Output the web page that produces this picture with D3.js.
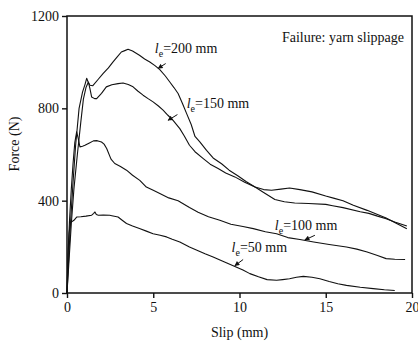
<!DOCTYPE html>
<html>
<head>
<meta charset="utf-8">
<script src="https://cdn.jsdelivr.net/npm/d3@7"></script>
<style>
  body { margin: 0; background: #fff; }
  text { font-family: "Liberation Serif", "Times New Roman", serif; fill: #111; }
</style>
</head>
<body>
<div id="chart"></div>
<script>
// slip (mm), force (N)
const curve200 = [[0,0],[0.1,150],[0.2,300],[0.35,480],[0.5,640],[0.7,800],[0.9,870],[1.05,905],[1.14,930],[1.22,915],
    [1.33,900],[1.5,898],[1.8,925],[2.1,951],[2.4,975],[2.67,1001],[2.9,1022],[3.15,1044],[3.35,1050],[3.54,1056],
    [3.8,1048],[4.2,1030],[4.5,1014],[4.8,1001],[5.1,985],[5.38,968],[5.7,940],[5.96,914],[6.2,890],[6.44,864],
    [6.7,820],[6.93,778],[7.2,730],[7.42,678],[7.7,655],[8.09,618],[8.47,585],[8.96,560],[9.4,532],[9.92,507],
    [10.4,482],[10.9,459],[11.4,435],[12.05,405],[12.6,395],[13.2,390],[14,388],[15,384],[15.4,378],[16,370],
    [17,352],[17.5,345],[18,333],[18.5,322],[19,308],[19.7,290]];

const curve150 = [[0,0],[0.1,120],[0.25,300],[0.4,450],[0.6,600],[0.8,740],[0.95,840],[1.1,890],[1.24,914],[1.33,885],
    [1.43,849],[1.6,842],[1.72,842],[2.0,865],[2.28,893],[2.6,902],[2.96,907],[3.25,910],[3.55,903],[3.83,893],
    [4.1,875],[4.41,857],[4.7,842],[4.99,828],[5.3,810],[5.57,792],[5.85,770],[6.15,748],[6.54,712],[6.8,680],
    [7.1,640],[7.42,612],[7.9,582],[8.3,558],[8.76,539],[9.2,520],[9.73,503],[10.3,480],[10.9,459],[11.4,448],
    [11.86,445],[12.4,450],[12.9,455],[13.5,448],[14.2,438],[15,420],[15.5,410],[16.0,400],[16.6,380],[17.4,358],
    [18.0,340],[18.5,325],[19.0,305],[19.7,278]];

const curve100 = [[0,0],[0.08,200],[0.15,320],[0.25,450],[0.35,560],[0.45,650],[0.56,698],[0.65,670],[0.75,633],[0.9,636],
    [1.04,640],[1.3,650],[1.53,659],[1.75,660],[2.0,654],[2.15,645],[2.3,626],[2.55,580],[2.77,561],[3.1,548],
    [3.45,532],[3.8,510],[4.22,488],[4.6,459],[5.0,445],[5.38,431],[5.9,412],[6.44,400],[7.1,370],[7.6,350],
    [8.2,330],[8.86,315],[9.5,298],[10.2,288],[10.8,279],[11.5,265],[12.15,257],[12.8,240],[13.5,232],[14.3,221],
    [15.2,210],[16.2,199],[16.8,190],[17.4,178],[18.0,162],[18.5,149],[19.0,146],[19.6,145]];

const curve50 = [[0,0],[0.05,150],[0.12,260],[0.2,305],[0.27,308],[0.4,315],[0.56,329],[0.8,330],[1.1,333],[1.43,337],
    [1.55,345],[1.62,351],[1.7,340],[1.82,337],[2.1,338],[2.48,337],[2.6,335],[2.96,329],[3.2,315],[3.45,301],
    [3.8,290],[4.2,279],[4.6,268],[4.99,257],[5.4,250],[5.77,243],[6.1,233],[6.54,221],[7.1,199],[7.6,183],
    [8.0,170],[8.47,156],[9.1,135],[9.8,113],[10.2,100],[10.6,84],[11.1,70],[11.6,58],[12.15,55],[12.5,58],
    [12.9,62],[13.3,68],[13.7,72],[14.2,68],[14.66,62],[15.2,50],[15.7,40],[16.2,33],[17.0,25],[17.75,19],
    [18.4,14],[19.0,11]];

const xTicks = [0, 5, 10, 15, 20];
const yTicks = [0, 400, 800, 1200];

// label text, label anchor (slip, force), arrow from -> to
const labels = [
    {len: "200", at: [5.09, 1039], from: [5.72, 994], to: [5.28, 973]},
    {len: "150", at: [6.94, 800], from: [6.4, 773], to: [5.86, 748]},
    {len: "100", at: [12.05, 272], from: [14.37, 250], to: [13.79, 230]},
    {len: "50", at: [9.54, 178], from: [10.21, 145], to: [9.73, 118]}
];

const margin = {top: 16, right: 6, bottom: 48, left: 67},
    width = 418 - margin.left - margin.right,
    height = 341 - margin.top - margin.bottom;

const svg = d3.select("#chart")
    .append("svg")
    .attr("width", width + margin.left + margin.right)
    .attr("height", height + margin.top + margin.bottom)
    .append("g")
    .attr("transform", `translate(${margin.left},${margin.top})`);

svg.append("defs")
    .append("marker")
    .attr("id", "head")
    .attr("viewBox", "0 0 10 10")
    .attr("refX", 9)
    .attr("refY", 5)
    .attr("markerWidth", 7)
    .attr("markerHeight", 5)
    .attr("markerUnits", "userSpaceOnUse")
    .attr("orient", "auto")
    .append("path")
    .attr("d", "M0,0 L10,5 L0,10 Z")
    .style("fill", "#111");

const x = d3.scaleLinear()
    .domain([0, 20])
    .range([0, width]);

const y = d3.scaleLinear()
    .domain([0, 1200])
    .range([height, 0]);

const xAxis = svg.append("g")
    .attr("transform", `translate(0,${height})`)
    .call(d3.axisBottom(x).tickValues(xTicks).tickFormat(d3.format("d"))
        .tickSize(5).tickPadding(4).tickSizeOuter(0));

const yAxis = svg.append("g")
    .call(d3.axisLeft(y).tickValues(yTicks).tickFormat(d3.format("d"))
        .tickSize(5).tickPadding(3).tickSizeOuter(0));

[xAxis, yAxis].forEach(a => {
    a.select(".domain").remove();
    a.selectAll("line").style("stroke", "#111").style("stroke-width", 1.4);
    a.selectAll("text")
        .style("font-family", "Liberation Serif")
        .style("font-size", "14px")
        .style("fill", "#111");
});

svg.append("rect")
    .attr("x", 0)
    .attr("y", 0)
    .attr("width", width)
    .attr("height", height)
    .style("fill", "none")
    .style("stroke", "#111")
    .style("stroke-width", 1.5);

const line = d3.line()
    .x(d => x(d[0]))
    .y(d => y(d[1]));

[curve200, curve150, curve100, curve50].forEach(c => {
    svg.append("path")
        .datum(c)
        .attr("d", line)
        .style("fill", "none")
        .style("stroke", "#111")
        .style("stroke-width", 1.1)
        .style("stroke-linejoin", "round");
});

labels.forEach(l => {
    const t = svg.append("text")
        .attr("x", x(l.at[0]))
        .attr("y", y(l.at[1]))
        .style("font-size", "14px");
    t.append("tspan").style("font-style", "italic").text("l");
    t.append("tspan").attr("dy", 4).style("font-size", "10px").text("e");
    t.append("tspan").attr("dy", -4).text(`=${l.len} mm`);

    svg.append("line")
        .attr("x1", x(l.from[0]))
        .attr("y1", y(l.from[1]))
        .attr("x2", x(l.to[0]))
        .attr("y2", y(l.to[1]))
        .style("stroke", "#111")
        .style("stroke-width", 1)
        .attr("marker-end", "url(#head)");
});

svg.append("text")
    .attr("x", width - 8)
    .attr("y", 26)
    .attr("text-anchor", "end")
    .style("font-size", "14px")
    .text("Failure: yarn slippage");

svg.append("text")
    .attr("x", width / 2)
    .attr("y", height + 44)
    .attr("text-anchor", "middle")
    .style("font-size", "14px")
    .text("Slip (mm)");

svg.append("text")
    .attr("transform", `translate(${19 - margin.left},${144 - margin.top}) rotate(-90)`)
    .attr("text-anchor", "middle")
    .style("font-size", "14px")
    .text("Force (N)");
</script>
</body>
</html>
